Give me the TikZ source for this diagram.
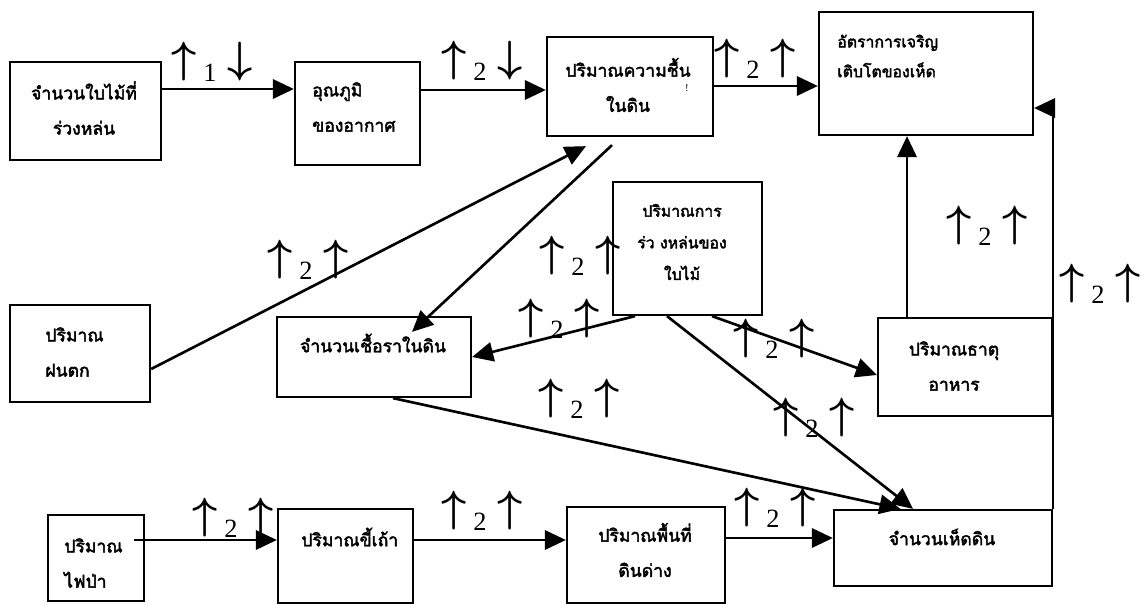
\documentclass[tikz,border=0pt]{standalone}
\usepackage{fontspec}
\setmainfont{Liberation Serif}
\newfontfamily\thaifont[Script=Thai,FakeBold=2.5]{Loma}
\usetikzlibrary{arrows.meta}

\newcommand{\upa}{{\fontsize{24.88}{26}\selectfont\raisebox{0.194em}{\boldmath$\uparrow$}}}
\newcommand{\dna}{{\fontsize{24.88}{26}\selectfont\raisebox{0.194em}{\boldmath$\downarrow$}}}
\newcommand{\rate}[3]{#1\hspace{4pt}#2\hspace{6pt}#3}

\begin{document}
\begin{tikzpicture}[->,>={Triangle[length=12pt,width=11pt]},line width=1.5pt,
    x=0.02cm,y=-0.02cm,
    box/.style={draw,rectangle,line width=1.3pt,inner sep=0pt},
    txt/.style={font=\thaifont\fontsize{10}{20}\selectfont,inner sep=0pt},
    rate/.style={font=\fontsize{15}{17}\selectfont,inner sep=0pt,anchor=base west}]

\useasboundingbox (0,0) rectangle (1144,605);

% boxes
\node[box,minimum width=3.02cm,minimum height=1.96cm] (leaf) at (85.5,111) {};
\node[box,minimum width=2.50cm,minimum height=2.06cm] (temp) at (357.5,113.5) {};
\node[box,minimum width=3.32cm,minimum height=1.98cm] (moist) at (630,86.5) {};
\node[box,minimum width=4.28cm,minimum height=2.46cm] (growth) at (926,73.5) {};
\node[box,minimum width=2.80cm,minimum height=1.94cm] (rain) at (80,353.5) {};
\node[box,minimum width=3.88cm,minimum height=1.60cm] (fungus) at (374,357) {};
\node[box,minimum width=2.98cm,minimum height=2.66cm] (litter) at (687.5,248.5) {};
\node[box,minimum width=3.48cm,minimum height=1.96cm] (nutrient) at (965,367) {};
\node[box,minimum width=4.36cm,minimum height=1.52cm] (mush) at (943,548) {};
\node[box,minimum width=1.92cm,minimum height=1.72cm] (fire) at (96,558) {};
\node[box,minimum width=2.70cm,minimum height=1.88cm] (ash) at (345.5,556) {};
\node[box,minimum width=3.16cm,minimum height=1.92cm] (alkali) at (646,555) {};

% texts
\node[txt,align=center] (leaftxt) at (84,108) {จำนวนใบไม้ที่\\ร่วงหล่น};
\node[txt,align=left,anchor=west] (temptxt) at (311,107) {อุณภูมิ\\ของอากาศ};
\node[txt,align=center] (moisttxt) at (628,85) {ปริมาณความชื้น\\ในดิน};
\node[font=\fontsize{6}{7}\selectfont,inner sep=0pt] (mark) at (687,88) {!};
\node[txt,align=left,anchor=west,font=\thaifont\fontsize{9}{17}\selectfont] (growthtxt) at (836,56) {อัตราการเจริญ\\เติบโตของเห็ด};
\node[txt,align=left,anchor=west] (raintxt) at (44,352) {ปริมาณ\\ฝนตก};
\node[txt] (fungustxt) at (373,343) {จำนวนเชื้อราในดิน};
\node[txt,align=center,font=\thaifont\fontsize{9}{18}\selectfont] (littertxt) at (682,242) {ปริมาณการ\\ร่ว งหล่นของ\\ใบไม้};
\node[txt,align=center] (nutrienttxt) at (954,366) {ปริมาณธาตุ\\อาหาร};
\node[txt] (mushtxt) at (942,537) {จำนวนเห็ดดิน};
\node[txt,align=left,anchor=west] (firetxt) at (63,563) {ปริมาณ\\ไฟป่า};
\node[txt,anchor=west] (ashtxt) at (300,537) {ปริมาณขี้เถ้า};
\node[txt,align=center] (alkalitxt) at (645,550) {ปริมาณพื้นที่\\ดินด่าง};

% connectors
\draw (leaf.east |- 0,89) -- (temp.west |- 0,89);
\draw (temp.east |- 0,90) -- (moist.west |- 0,90);
\draw (moist.east |- 0,86) -- (growth.west |- 0,86);
\draw (rain.east |- 0,369) -- ([xshift=-0.88cm,yshift=-0.18cm]moist.south);
\draw ([xshift=-0.36cm,yshift=-0.16cm]moist.south) -- ([xshift=0.76cm,yshift=-0.32cm]fungus.north);
\draw ([xshift=-1.05cm]litter.south) -- (fungus.east);
\draw ([xshift=0.49cm]litter.south) -- ([yshift=-0.16cm]nutrient.west);
\draw ([xshift=-0.41cm]litter.south) -- ([xshift=-0.6cm]mush.north);
\draw ([xshift=0.38cm]fungus.south) -- ([xshift=-0.85cm]mush.north);
\draw ([xshift=-1.16cm]nutrient.north) -- ([xshift=-1.16cm]nutrient.north |- growth.south);
\draw (mush.north east) |- ([yshift=-0.69cm]growth.east);
\draw[shorten <=-0.22cm] (fire.east |- 0,540) -- (ash.west |- 0,540);
\draw (ash.east |- 0,540) -- (alkali.west |- 0,540);
\draw (alkali.east |- 0,538) -- (mush.west |- 0,538);

% rates
\node[rate] (r1) at (170,81) {\rate{\upa}{1}{\dna}};
\node[rate] (r2) at (440,80) {\rate{\upa}{2}{\dna}};
\node[rate] (r3) at (713,78) {\rate{\upa}{2}{\upa}};
\node[rate] (r4) at (266,279) {\rate{\upa}{2}{\upa}};
\node[rate] (r5) at (538,275) {\rate{\upa}{2}{\upa}};
\node[rate] (r6) at (517,338) {\rate{\upa}{2}{\upa}};
\node[rate] (r7) at (537,418) {\rate{\upa}{2}{\upa}};
\node[rate] (r8) at (732,358) {\rate{\upa}{2}{\upa}};
\node[rate] (r9) at (772,437) {\rate{\upa}{2}{\upa}};
\node[rate] (r10) at (945,245) {\rate{\upa}{2}{\upa}};
\node[rate] (r11) at (1058,303) {\rate{\upa}{2}{\upa}};
\node[rate] (r12) at (191,537) {\rate{\upa}{2}{\upa}};
\node[rate] (r13) at (440,530) {\rate{\upa}{2}{\upa}};
\node[rate] (r14) at (733,527) {\rate{\upa}{2}{\upa}};

\end{tikzpicture}
\end{document}
